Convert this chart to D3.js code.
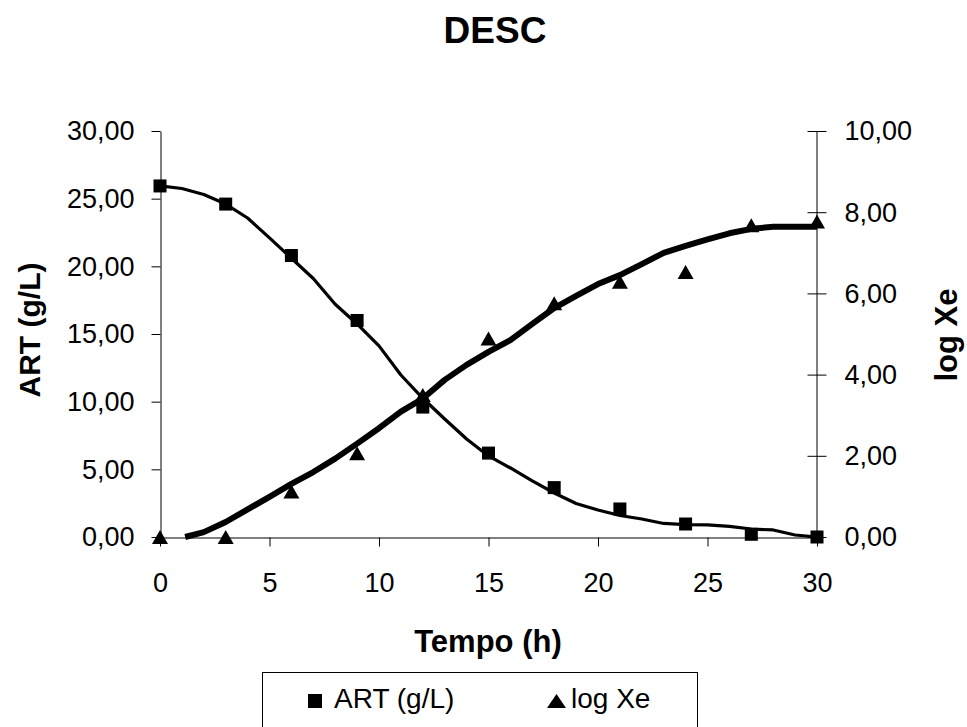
<!DOCTYPE html>
<html>
<head>
<meta charset="utf-8">
<script src="https://cdn.jsdelivr.net/npm/d3@7"></script>
<style>
  html, body { margin: 0; padding: 0; background: #fff; }
  svg { display: block; font-family: "Liberation Sans", Arial, sans-serif; }
</style>
</head>
<body>
<svg id="chart" width="967" height="727"></svg>
<script>
// ---- Data ----
const chartTitle = "DESC";
const xTitle = "Tempo (h)";
const yLeftTitle = "ART (g/L)";
const yRightTitle = "log Xe";
const seriesNames = ["ART (g/L)", "log Xe"];

// observed points
const obsTime = [0, 3, 6, 9, 12, 15, 18, 21, 24, 27, 30];
const artObs  = [25.94, 24.6, 20.8, 16.0, 9.6, 6.2, 3.65, 2.07, 0.96, 0.2, 0.0];
const logXeObs = [0.0, 0.0, 1.12, 2.06, 3.5, 4.89, 5.76, 6.29, 6.53, 7.68, 7.77];

// fitted (model) curves
const artFitTime = [0,1,2,3,4,5,6,7,8,9,10,11,12,13,14,15,16,17,18,19,20,21,22,23,24,25,26,27,28,29,30];
const artFit = [25.94,25.75,25.31,24.6,23.57,22.1,20.6,19.1,17.2,15.74,14.12,11.97,10.25,8.72,7.24,5.99,5.1,4.14,3.25,2.48,1.99,1.59,1.33,1.0,0.92,0.89,0.78,0.59,0.52,0.15,0.0];
const logXeFitTime = [1.15,2,3,4,5,6,7,8,9,10,11,12,13,14,15,16,17,18,19,20,21,22,23,24,25,26,27,28,29,30];
const logXeFit = [0.0,0.12,0.37,0.68,0.99,1.31,1.6,1.93,2.3,2.68,3.09,3.41,3.87,4.24,4.56,4.85,5.25,5.64,5.94,6.23,6.45,6.72,7.0,7.17,7.33,7.48,7.59,7.64,7.64,7.64];

// ticks
const xTicks = [0, 5, 10, 15, 20, 25, 30];
const yLeftTicks = [0, 5, 10, 15, 20, 25, 30];
const yRightTicks = [0, 2, 4, 6, 8, 10];

// ---- Drawing ----
const svg = d3.select("#chart");
const x = d3.scaleLinear().domain([0, 30]).range([160, 817]);
const yL = d3.scaleLinear().domain([0, 30]).range([537, 131]);
const yR = d3.scaleLinear().domain([0, 10]).range([537, 131]);

const locale = d3.formatLocale({decimal: ",", thousands: ".", grouping: [3], currency: ["", ""]});
const f2 = locale.format(".2f");

const tickFont = 27;

// left axis
const gL = svg.append("g").attr("transform", "translate(160.5,0)")
  .call(d3.axisLeft(yL).tickValues(yLeftTicks).tickFormat(f2).tickSize(9).tickPadding(17).tickSizeOuter(0));
// right axis
const gR = svg.append("g").attr("transform", "translate(816.5,0)")
  .call(d3.axisRight(yR).tickValues(yRightTicks).tickFormat(f2).tickSize(10).tickPadding(18).tickSizeOuter(0));
gR.selectAll(".tick line").attr("x1", -9);
// bottom axis
const gB = svg.append("g").attr("transform", "translate(0,537.5)")
  .call(d3.axisBottom(x).tickValues(xTicks).tickFormat(d3.format("d")).tickSize(9).tickPadding(26).tickSizeOuter(0));

[gL, gR, gB].forEach(g => {
  g.select(".domain").attr("stroke", "#000").attr("stroke-width", 1);
  g.selectAll(".tick line").attr("stroke", "#000").attr("stroke-width", 1);
  g.selectAll("text").attr("fill", "#000").style("font-size", tickFont + "px")
    .style("font-family", "'Liberation Sans', Arial, sans-serif");
});
gL.selectAll("text").attr("dy", "0.33em");
gR.selectAll("text").attr("dy", "0.33em");
gB.selectAll("text").attr("dy", "0.71em");

// fitted lines
const lineArt = d3.line().x((d, i) => x(artFitTime[i])).y(d => yL(d));
const lineXe = d3.line().x((d, i) => x(logXeFitTime[i])).y(d => yR(d));

svg.append("path").datum(artFit).attr("d", lineArt)
  .attr("fill", "none").attr("stroke", "#000").attr("stroke-width", 3.2).attr("stroke-linejoin", "round");
svg.append("path").datum(logXeFit).attr("d", lineXe)
  .attr("fill", "none").attr("stroke", "#000").attr("stroke-width", 6).attr("stroke-linejoin", "round");

// markers
const sq = 13;
svg.append("g").selectAll("rect").data(artObs).join("rect")
  .attr("x", (d, i) => x(obsTime[i]) - sq / 2)
  .attr("y", d => yL(d) - sq / 2)
  .attr("width", sq).attr("height", sq).attr("fill", "#000");

const tri = (cx, cy, w, h) => `M${cx},${cy - h / 2}L${cx + w / 2},${cy + h / 2}L${cx - w / 2},${cy + h / 2}Z`;
svg.append("g").selectAll("path").data(logXeObs).join("path")
  .attr("d", (d, i) => tri(x(obsTime[i]), yR(d), 16, 14))
  .attr("fill", "#000");

// titles
svg.append("text").attr("x", 495).attr("y", 43).attr("text-anchor", "middle")
  .style("font-size", "37px").style("font-weight", "bold").text(chartTitle);
svg.append("text").attr("x", 488).attr("y", 652).attr("text-anchor", "middle")
  .style("font-size", "31px").style("font-weight", "bold").text(xTitle);
svg.append("text").attr("transform", "translate(40,330) rotate(-90)").attr("text-anchor", "middle")
  .style("font-size", "30px").style("font-weight", "bold").text(yLeftTitle);
svg.append("text").attr("transform", "translate(957,335) rotate(-90)").attr("text-anchor", "middle")
  .style("font-size", "31px").style("font-weight", "bold").text(yRightTitle);

// legend
const leg = svg.append("g");
leg.append("rect").attr("x", 262.5).attr("y", 672.5).attr("width", 435).attr("height", 80)
  .attr("fill", "#fff").attr("stroke", "#000").attr("stroke-width", 1);
leg.append("rect").attr("x", 308).attr("y", 694).attr("width", 14).attr("height", 14).attr("fill", "#000");
leg.append("text").attr("x", 334).attr("y", 708).style("font-size", "28px").text(seriesNames[0]);
leg.append("path").attr("d", tri(556.5, 701, 19, 14)).attr("fill", "#000");
leg.append("text").attr("x", 571).attr("y", 708).style("font-size", "28px").text(seriesNames[1]);
</script>
</body>
</html>
